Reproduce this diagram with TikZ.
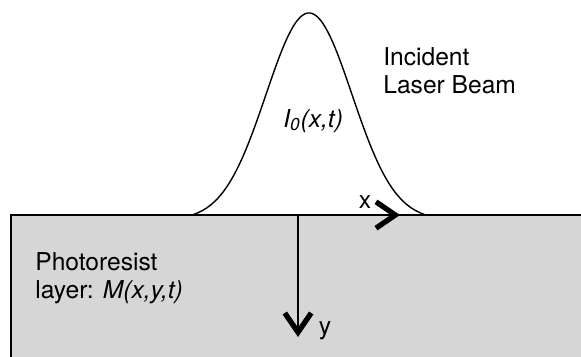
\documentclass[tikz,border=0pt]{standalone}
\usepackage{fontspec}
\setmainfont{TeX Gyre Heros}
\usetikzlibrary{arrows.meta}
\definecolor{resistgray}{RGB}{214,214,214}

\begin{document}
\begin{tikzpicture}[
    surface/.style={draw=black, line width=1.1pt},
    beam/.style={draw=black, line width=0.8pt, line cap=round},
    axis/.style={draw=black, line width=1.2pt,
        -{Straight Barb[length=11pt, width=15pt, line width=3pt]}},
    label text/.style={font=\fontsize{14}{15.9}\selectfont, inner sep=0pt,
        align=left},
    axis label/.style={font=\fontsize{14}{15.9}\selectfont, inner sep=0pt}
]
\useasboundingbox (0,0) rectangle (11.62,7.12);

% photoresist layer
\fill[resistgray] (0.22,-0.2) rectangle (11.8,2.82);
\draw[surface] (0.22,-0.2) -- (0.22,2.82) -- (11.8,2.82);

% incident gaussian beam
\draw[beam] plot[domain=-2.34:2.34, samples=120, smooth]
    ({6.18+\x}, {2.82+4.04*(exp(-(\x*\x)/1.4792)-0.0247)/0.9753});

% axes
\coordinate (origin) at (5.96,2.82);
\coordinate (x-tip) at (8.00,2.82);
\coordinate (y-tip) at (5.96,0.38);
\draw[axis] (origin) -- (x-tip);
\draw[axis] (origin) -- (y-tip);

\node[axis label] (x-label) at (7.30,3.08) {x};
\node[axis label] (y-label) at (6.50,0.50) {y};

% labels
\node[label text, anchor=north west] (beam-label) at (7.66,6.18)
    {Incident\\Laser Beam};
\node[label text, anchor=base west] (intensity) at (5.66,4.58)
    {\itshape I\textsubscript{0}(x,t)};
\node[label text, anchor=north west] (layer-label) at (0.70,2.08)
    {Photoresist\\layer: \itshape M(x,y,t)};

\end{tikzpicture}
\end{document}
